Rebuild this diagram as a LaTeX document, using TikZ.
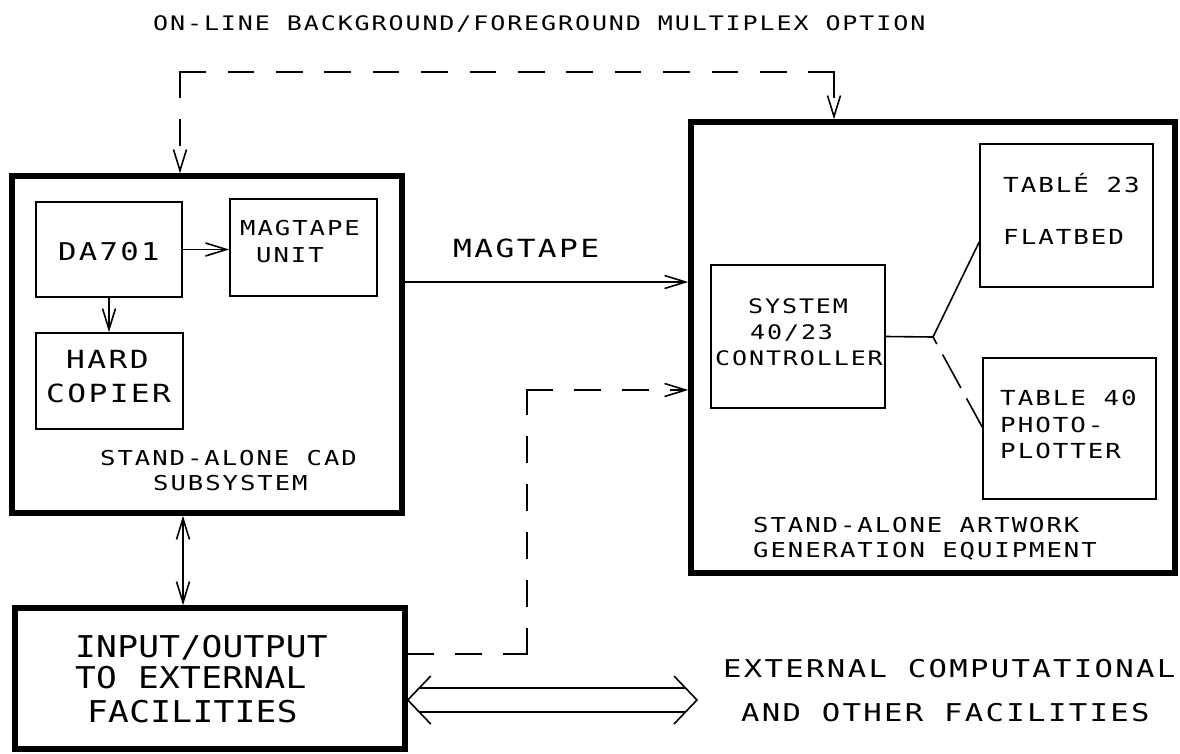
\documentclass[tikz,border=0pt]{standalone}
\usepackage{fontspec}
\usetikzlibrary{arrows.meta,calc}
\newfontfamily\plotfont[FakeStretch=1.25,LetterSpace=9.5]{DejaVu Sans Mono}
\newfontfamily\plotfontb[FakeStretch=1.15,LetterSpace=1]{DejaVu Sans Mono}
\newcommand{\pfs}[1]{\fontsize{#1}{#1}\selectfont}
\begin{document}
\begin{tikzpicture}[x=1pt,y=-1pt,
  bigbox/.style={draw, line width=5.5pt, inner sep=0pt},
  smallbox/.style={draw, line width=1.6pt, inner sep=0pt},
  lbl/.style={anchor=base west, inner sep=0pt, font=\plotfont\pfs{20.5}},
  conn/.style={line width=1.6pt},
  arr/.style={conn, -{Straight Barb[length=21pt,width=13pt]}},
  darr/.style={conn, {Straight Barb[length=21pt,width=13pt]}-{Straight Barb[length=21pt,width=13pt]}},
  dsh/.style={conn, line cap=rect, dash pattern=on 25pt off 23pt}
]
\useasboundingbox (0,0) rectangle (1180,753);
\fill[white] (0,0) rectangle (1180,753);

% big boxes
\node[bigbox, minimum width=390pt, minimum height=337pt] (cad) at (207,344.5) {};
\node[bigbox, minimum width=390pt, minimum height=141pt] (io) at (210,678.5) {};
\node[bigbox, minimum width=484pt, minimum height=451pt] (art) at (933,347.5) {};

% small boxes
\node[smallbox, minimum width=146pt, minimum height=95pt] (da) at (109,249.5) {};
\node[smallbox, minimum width=147pt, minimum height=97pt] (mtu) at (303.5,247.5) {};
\node[smallbox, minimum width=147pt, minimum height=96pt] (hc) at (109.5,381) {};
\node[smallbox, minimum width=174pt, minimum height=143pt] (ctl) at (798,336.5) {};
\node[smallbox, minimum width=173pt, minimum height=143pt] (t23) at (1066.5,215.5) {};
\node[smallbox, minimum width=173pt, minimum height=141pt] (t40) at (1069.5,428.5) {};

% texts
\node[lbl, font=\plotfont\pfs{20}] (toptxt) at (153,30) {ON-LINE BACKGROUND/FOREGROUND MULTIPLEX OPTION};
\node[lbl, font=\plotfont\pfs{24.5}] (tda) at (58,260) {DA701};
\node[lbl] (tmt1) at (240,235) {MAGTAPE};
\node[lbl] (tmt2) at (256,262) {UNIT};
\node[lbl, font=\plotfont\pfs{25}] (thc1) at (66,368) {HARD};
\node[lbl, font=\plotfont\pfs{25}] (thc2) at (46,402) {COPIER};
\node[lbl] (tcad1) at (100,465) {STAND-ALONE CAD};
\node[lbl] (tcad2) at (153,490) {SUBSYSTEM};
\node[lbl, font=\plotfont\pfs{25}] (tmag) at (453,257) {MAGTAPE};
\node[lbl, font=\plotfont\pfs{20}] (tc1) at (748,313) {SYSTEM};
\node[lbl, font=\plotfont\pfs{20}] (tc2) at (750,339) {40/23};
\node[lbl, font=\plotfont\pfs{20}] (tc3) at (715,365) {CONTROLLER};
\node[lbl, font=\plotfont\pfs{20.7}] (tt1) at (1003,192) {TABLÉ 23};
\node[lbl, font=\plotfont\pfs{20.7}] (tt2) at (1003,244) {FLATBED};
\node[lbl, font=\plotfont\pfs{20.7}] (tp1) at (1000,405) {TABLE 40};
\node[lbl, font=\plotfont\pfs{20.7}] (tp2) at (1000,432) {PHOTO-};
\node[lbl, font=\plotfont\pfs{20.7}] (tp3) at (1000,458) {PLOTTER};
\node[lbl] (ta1) at (753,532) {STAND-ALONE ARTWORK};
\node[lbl] (ta2) at (753,557) {GENERATION EQUIPMENT};
\node[lbl, font=\plotfontb\pfs{30}] (tio1) at (75,657) {INPUT/OUTPUT};
\node[lbl, font=\plotfontb\pfs{30}] (tio2) at (75,688) {TO EXTERNAL};
\node[lbl, font=\plotfontb\pfs{30}] (tio3) at (87,722) {FACILITIES};
\node[lbl, font=\plotfont\pfs{24.5}] (te1) at (723,677) {EXTERNAL COMPUTATIONAL};
\node[lbl, font=\plotfont\pfs{24.5}] (te2) at (741,721) {AND OTHER FACILITIES};

% solid connectors
\draw[arr] (da.east) -- (da.east -| mtu.west);
\draw[arr] (da.south) -- (da.south |- hc.north);
\draw[arr] (cad.east |- 0,282) -- (art.west |- 0,282);
\draw[darr] (cad.south -| 183,0) -- (io.north -| 183,0);

% controller fan-out
\coordinate (j) at (933,337);
\draw[conn] (ctl.east) -- (j) -- (t23.west |- 0,242);
\draw[conn, dash pattern=on 8pt off 12pt on 38pt off 12pt on 40pt] (j) -- (t40.west |- 0,427);

% dashed I/O to artwork
\coordinate (c1) at (527,654);
\coordinate (c2) at (527,390);
\draw[dsh] (io.east |- c1) -- (c1);
\draw[dsh] (c1) -- (c2);
\draw[dsh, -{Straight Barb[length=21pt,width=13pt]}] (c2) -- (art.west |- c2);

% top dashed multiplex option
\coordinate (k1) at (180,72);
\coordinate (k2) at (834,72);
\draw[dsh, -{Straight Barb[length=21pt,width=13pt]}] (k1) -- (cad.north -| k1);
\draw[conn, line cap=rect, dash pattern=on 25pt off 23.4pt] (k1) -- (k2);
\draw[dsh, -{Straight Barb[length=21pt,width=13pt]}] (k2) -- (art.north -| k2);

% hollow double arrow
\coordinate (L) at (io.east |- 0,700);
\coordinate (R) at (697,700);
\draw[conn] ($(L)+(23,-24)$) -- (L) -- ($(L)+(23,24)$);
\draw[conn] ($(R)+(-23,-24)$) -- (R) -- ($(R)+(-23,24)$);
\draw[conn] ($(L)+(12,-12)$) -- ($(R)+(-12,-12)$);
\draw[conn] ($(L)+(12,12)$) -- ($(R)+(-12,12)$);
\end{tikzpicture}
\end{document}
